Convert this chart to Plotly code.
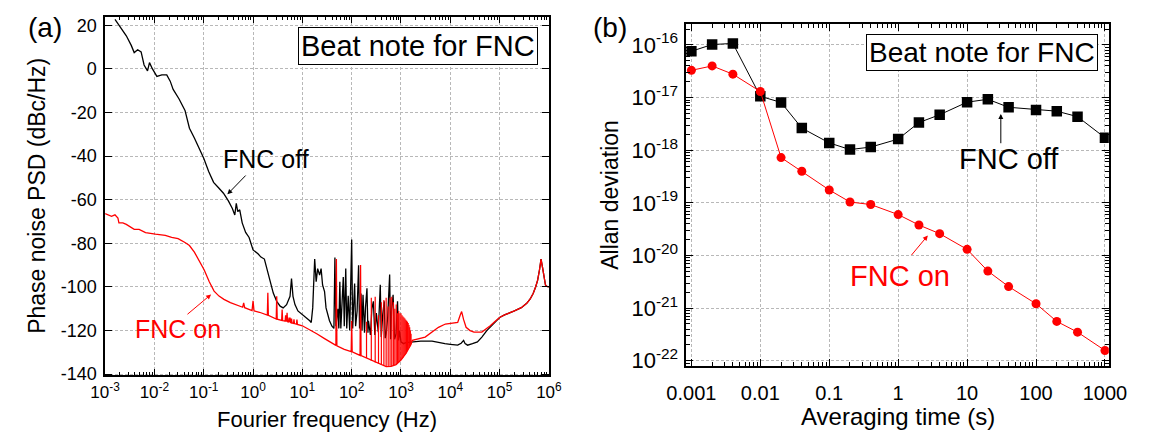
import plotly.graph_objects as go

# ---------------- panel (a): phase noise PSD ----------------
# FNC off (black) : log10(frequency / Hz) and dBc/Hz
off_logf = [-2.80, -2.57, -2.47, -2.41, -2.34, -2.27, -2.21, -2.14, -2.10, -2.04,
            -1.95, -1.85, -1.75, -1.68, -1.62, -1.50, -1.38, -1.29, -1.19, -1.09,
            -1.00, -0.90, -0.80, -0.70, -0.60, -0.50, -0.42, -0.37, -0.34, -0.31,
            -0.27, -0.22, -0.15, -0.08, -0.03, 0.00, 0.10, 0.16, 0.23, 0.28,
            0.35, 0.41, 0.48, 0.55, 0.61, 0.68, 0.75, 0.78, 0.81, 0.85,
            0.91, 1.01, 1.08, 1.15, 1.18, 1.21, 1.25, 1.28, 1.31, 1.35,
            1.38, 1.41, 1.45, 1.48, 1.55, 1.60, 1.64, 1.66, 1.68, 1.72,
            1.74, 1.76, 1.78, 1.81, 1.83, 1.85, 1.88, 1.90, 1.93, 1.96,
            2.00, 2.02, 2.06, 2.08, 2.11, 2.14, 2.16, 2.19, 2.21, 2.23,
            2.26, 2.28, 2.31, 2.33, 2.34, 2.38, 2.41, 2.44, 2.47, 2.50,
            2.54, 2.58, 2.60, 2.63, 2.66, 2.68, 2.70, 2.73, 2.77, 2.79,
            2.81, 2.84, 2.87, 2.90, 2.93, 2.95, 2.97, 3.00, 3.05, 3.10,
            3.23, 3.40, 3.63, 3.76, 3.89, 4.00, 4.15, 4.22, 4.27, 4.30,
            4.35, 4.45, 4.55, 4.64, 4.74, 4.85, 4.97]
off_db = [22.7, 15.2, 10.8, 7.5, 8.8, 7.8, 1.8, -0.9, 2.9, 0.0,
          -3.4, -2.7, -2.7, -5.6, -9.4, -13.8, -19.0, -27.2, -31.7, -36.5,
          -41.0, -47.0, -52.0, -54.5, -57.0, -60.5, -64.0, -67.0, -61.6, -65.4,
          -64.6, -70.6, -75.0, -77.3, -81.0, -83.0, -84.8, -86.3, -87.2, -91.6,
          -98.4, -102.8, -106.6, -108.8, -109.6, -108.1, -104.3, -96.1, -104.3, -108.1,
          -111.0, -112.8, -114.0, -115.5, -116.3, -109.6, -87.2, -97.6, -91.6, -94.6,
          -91.6, -99.1, -102.1, -109.6, -115.5, -118.0, -119.0, -86.5, -118.0, -110.0,
          -119.0, -97.6, -119.0, -104.0, -95.4, -118.0, -91.5, -119.0, -104.0, -120.0,
          -78.2, -119.0, -98.4, -118.0, -111.0, -90.0, -119.0, -103.0, -120.0, -103.6,
          -121.0, -109.6, -100.6, -121.0, -115.5, -122.0, -110.0, -106.6, -122.0, -112.0,
          -120.7, -99.0, -123.0, -112.5, -106.6, -123.5, -121.5, -114.0, -94.3, -124.0,
          -110.0, -103.6, -124.0, -121.5, -106.6, -124.5, -120.0, -125.2, -126.0, -125.5,
          -125.2, -124.8, -124.8, -125.5, -126.0, -126.3, -126.7, -125.8, -124.5, -126.0,
          -126.7, -126.0, -125.2, -123.0, -120.0, -117.5, -115.0]

# FNC on (red)
on_logf = [-3.00, -2.93, -2.87, -2.80, -2.74, -2.72, -2.64, -2.57, -2.47, -2.41,
           -2.31, -2.18, -1.98, -1.78, -1.65, -1.52, -1.38, -1.29, -1.19, -1.09,
           -0.99, -0.89, -0.79, -0.69, -0.59, -0.46, -0.33, -0.21, -0.19, -0.17,
           -0.02, 0.00, 0.02, 0.13, 0.29, 0.30, 0.31, 0.47, 0.48, 0.49,
           0.58, 0.59, 0.60, 0.65, 0.66, 0.67, 0.68, 0.69, 0.70, 0.72,
           0.73, 0.74, 0.75, 0.76, 0.77, 0.78, 0.79, 0.82, 0.83, 0.84,
           0.88, 0.89, 0.90, 1.00, 1.18, 1.30, 1.45, 1.60, 1.68, 1.69,
           1.70, 1.85, 1.99, 2.00, 2.01, 2.17, 2.18, 2.19, 2.30, 2.40,
           2.50, 2.60, 2.70, 2.80, 2.90, 3.00, 3.10, 3.20, 3.23, 3.49,
           3.76, 3.90, 4.02, 4.15, 4.20, 4.23, 4.27, 4.32, 4.40, 4.48,
           4.64, 4.75, 4.81, 4.90, 4.97]
on_db = [-66.4, -66.9, -67.6, -66.9, -68.4, -70.6, -70.6, -71.3, -72.8, -73.6,
         -73.6, -75.1, -75.8, -76.3, -77.3, -77.8, -79.6, -81.0, -84.0, -87.8,
         -92.2, -97.5, -101.9, -104.2, -105.7, -107.2, -108.4, -109.3, -107.3, -109.5,
         -110.8, -106.4, -111.0, -111.6, -112.9, -102.7, -113.0, -114.7, -104.3, -114.8,
         -115.3, -110.3, -115.4, -115.7, -113.0, -115.8, -115.9, -111.8, -116.0, -116.1,
         -114.0, -116.2, -114.0, -116.3, -116.4, -114.5, -116.5, -116.7, -114.8, -116.8,
         -117.1, -115.0, -117.2, -117.8, -120.0, -121.6, -123.7, -125.6, -126.8, -87.2,
         -127.0, -128.6, -129.6, -115.5, -129.8, -131.4, -89.9, -131.5, -132.6, -133.8,
         -134.8, -135.8, -136.5, -136.4, -135.6, -133.5, -130.5, -126.5, -124.5, -123.0,
         -118.5, -117.0, -116.5, -116.3, -113.0, -111.3, -115.0, -118.5, -120.0, -120.7,
         -120.7, -119.0, -117.8, -116.0, -114.5]

# high-frequency part where both curves coincide
hf_logf = [5.00, 5.10, 5.20, 5.30, 5.44, 5.55, 5.62, 5.68, 5.73, 5.77,
           5.81, 5.84, 5.87, 5.90, 5.93, 5.96, 6.00]
hf_db = [-114.0, -112.8, -112.0, -111.0, -109.5, -107.5, -105.5, -103.0, -100.0, -97.0,
         -92.0, -87.2, -91.0, -96.0, -99.1, -99.8, -100.0]

# red comb of 50 Hz harmonics (Hz, bottom dB, top dB)
comb_hz = [200, 250, 300, 350, 400, 450, 500, 550, 600, 650,
           700, 750, 800, 850, 900, 950, 1000, 1050, 1100, 1150,
           1200, 1250, 1300, 1350, 1400, 1450, 1500, 1550, 1600]
comb_base_db = [-132.6, -133.8, -134.6, -135.2, -135.8, -136.2, -136.5, -136.5, -136.4, -136.3,
                -136.1, -135.8, -135.5, -135.0, -134.5, -134.0, -133.5, -132.9, -132.3, -131.7,
                -131.1, -130.6, -130.0, -129.3, -128.6, -127.9, -127.3, -126.8, -126.3]
comb_top_db = [-116.0, -105.0, -104.5, -113.0, -107.0, -106.0, -105.0, -109.0, -105.0, -104.5,
               -107.0, -110.0, -108.0, -112.0, -111.0, -112.0, -112.0, -113.0, -113.5, -114.0,
               -114.5, -115.0, -115.5, -116.0, -116.5, -117.5, -118.5, -120.0, -121.5]

# ---------------- panel (b): Allan deviation ----------------
tau_s = [0.001, 0.002, 0.004, 0.01, 0.02, 0.04, 0.1, 0.2, 0.4, 1,
         2, 4, 10, 20, 40, 100, 200, 400, 1000]
adev_off = [7.6e-17, 1.02e-16, 1.07e-16, 1.06e-17, 8.1e-18, 2.64e-18, 1.38e-18, 1.03e-18, 1.15e-18, 1.63e-18,
            3.36e-18, 4.73e-18, 8.2e-18, 9.3e-18, 6.56e-18, 5.85e-18, 5.53e-18, 4.35e-18, 1.73e-18]
adev_on = [3.3e-17, 4.0e-17, 2.79e-17, 1.31e-17, 7.26e-19, 4.0e-19, 1.76e-19, 1.04e-19, 9.3e-20, 6.0e-20,
           3.8e-20, 2.6e-20, 1.31e-20, 5.06e-21, 2.57e-21, 1.21e-21, 5.6e-22, 3.5e-22, 1.57e-22]

psd_ticks_db = [-140, -120, -100, -80, -60, -40, -20, 0, 20]
freq_exponents = [-3, -2, -1, 0, 1, 2, 3, 4, 5, 6]
tau_ticks = [0.001, 0.01, 0.1, 1, 10, 100, 1000]
tau_ticktext = ["0.001", "0.01", "0.1", "1", "10", "100", "1000"]
adev_exponents = [-22, -21, -20, -19, -18, -17, -16]

FONT = "Arial, 'Liberation Sans', sans-serif"
RED = "#ff0000"

fig = go.Figure()

fig.add_trace(go.Scatter(
    x=[10 ** v for v in off_logf + hf_logf], y=off_db + hf_db,
    mode="lines", line=dict(color="black", width=1.3),
    xaxis="x", yaxis="y", showlegend=False, hoverinfo="skip"))

comb_x, comb_y = [], []
for f, b, t in zip(comb_hz, comb_base_db, comb_top_db):
    comb_x += [f, f, None]
    comb_y += [b, t, None]
fig.add_trace(go.Scatter(
    x=comb_x, y=comb_y, mode="lines", line=dict(color=RED, width=1.2),
    xaxis="x", yaxis="y", showlegend=False, hoverinfo="skip", connectgaps=False))

fig.add_trace(go.Scatter(
    x=[10 ** v for v in on_logf + hf_logf], y=on_db + hf_db,
    mode="lines", line=dict(color=RED, width=1.3),
    xaxis="x", yaxis="y", showlegend=False, hoverinfo="skip"))

fig.add_trace(go.Scatter(
    x=tau_s, y=adev_off, mode="lines+markers",
    line=dict(color="black", width=1),
    marker=dict(symbol="square", size=10.5, color="black"),
    xaxis="x2", yaxis="y2", showlegend=False))
fig.add_trace(go.Scatter(
    x=tau_s, y=adev_on, mode="lines+markers",
    line=dict(color=RED, width=1),
    marker=dict(symbol="circle", size=9, color=RED),
    xaxis="x2", yaxis="y2", showlegend=False))

grid = dict(showgrid=True, gridcolor="#b8b8b8", gridwidth=1, griddash="3px,2px")
frame = dict(showline=True, linecolor="black", linewidth=1.5, mirror="allticks",
             ticks="inside", ticklen=7, tickwidth=1.2, tickcolor="black", zeroline=False)

minor_freq = [m * 10.0 ** k for k in range(-3, 6) for m in range(2, 10)]
minor_tau = [m * 10.0 ** k for k in range(-3, 3) for m in range(2, 10)]
minor_adev = [m * 10.0 ** k for k in range(-23, -15) for m in range(2, 10)]

fig.update_layout(
    width=1152, height=439,
    margin=dict(l=0, r=0, t=0, b=0),
    paper_bgcolor="white", plot_bgcolor="white",
    font=dict(family=FONT, color="black"),
    xaxis=dict(type="log", range=[-3, 6], domain=[0.0764, 0.4748], anchor="y",
               tickmode="array", tickvals=[10.0 ** k for k in freq_exponents],
               ticktext=["10<sup>%d</sup>" % k for k in freq_exponents],
               tickfont=dict(size=17), ticklabelstandoff=1,
               minor=dict(tickmode="array", tickvals=minor_freq, ticks="inside",
                          ticklen=4, tickcolor="black", showgrid=False),
               **grid, **frame),
    yaxis=dict(range=[-140.5, 24], domain=[0.1276, 0.9636], anchor="x",
               tickmode="array", tickvals=psd_ticks_db,
               ticktext=["%d" % v for v in psd_ticks_db],
               tickfont=dict(size=18), ticklabelstandoff=3, **grid, **frame),
    xaxis2=dict(type="log", range=[-3.074, 3.056], domain=[0.5981, 0.9774], anchor="y2",
                tickmode="array", tickvals=tau_ticks, ticktext=tau_ticktext,
                tickfont=dict(size=20), ticklabelstandoff=9,
                minor=dict(tickmode="array", tickvals=minor_tau, ticks="inside",
                           ticklen=4, tickcolor="black", showgrid=False),
                **grid, **frame),
    yaxis2=dict(type="log", range=[-22.09, -15.61], domain=[0.1503, 0.9453], anchor="x2",
                tickmode="array", tickvals=[10.0 ** k for k in adev_exponents],
                ticktext=["10<sup>%d</sup>" % k for k in adev_exponents],
                tickfont=dict(size=22), ticklabelstandoff=2,
                minor=dict(tickmode="array", tickvals=minor_adev, ticks="inside",
                           ticklen=4, tickcolor="black", showgrid=False),
                **grid, **frame),
)

ann = []
# panel labels
ann.append(dict(text="(a)", x=0.0226, y=0.9385, xref="paper", yref="paper",
                showarrow=False, font=dict(size=28), xanchor="center", yanchor="middle"))
ann.append(dict(text="(b)", x=0.530, y=0.9385, xref="paper", yref="paper",
                showarrow=False, font=dict(size=28), xanchor="center", yanchor="middle"))
# axis titles
ann.append(dict(text="Phase noise PSD (dBc/Hz)", x=0.0152, y=0.5456, xref="paper", yref="paper",
                textangle=-90, showarrow=False, font=dict(size=23), xanchor="center", yanchor="middle"))
ann.append(dict(text="Fourier frequency (Hz)", x=0.2756, y=0.0, xref="paper", yref="paper",
                showarrow=False, font=dict(size=22), xanchor="center", yanchor="bottom",
                yshift=-4))
ann.append(dict(text="Allan deviation", x=0.5295, y=0.548, xref="paper", yref="paper",
                textangle=-90, showarrow=False, font=dict(size=23), xanchor="center", yanchor="middle"))
ann.append(dict(text="Averaging time (s)", x=0.7878, y=0.031, xref="paper", yref="paper",
                showarrow=False, font=dict(size=24), xanchor="center", yanchor="middle"))
# boxes
ann.append(dict(text="Beat note for FNC", x=0.976, y=0.971, xref="x domain", yref="y domain",
                xanchor="right", yanchor="top", showarrow=False, font=dict(size=29),
                bordercolor="black", borderwidth=1, borderpad=2, bgcolor="white"))
ann.append(dict(text="Beat note for FNC", x=0.975, y=0.973, xref="x2 domain", yref="y2 domain",
                xanchor="right", yanchor="top", showarrow=False, font=dict(size=28),
                bordercolor="black", borderwidth=1, borderpad=2, bgcolor="white"))
# panel (a) labels and arrows (log10 units on log axes)
ann.append(dict(text="FNC off", x=0.26, y=-41.5, xref="x", yref="y", showarrow=False,
                font=dict(size=25, color="black")))
ann.append(dict(text="", x=-0.52, y=-57.5, ax=-0.12, ay=-48.2, xref="x", yref="y",
                axref="x", ayref="y", showarrow=True, arrowhead=2, arrowsize=1,
                arrowwidth=1, arrowcolor="black"))
ann.append(dict(text="FNC on", x=-1.53, y=-119.4, xref="x", yref="y", showarrow=False,
                font=dict(size=25, color=RED)))
ann.append(dict(text="", x=-0.85, y=-103.4, ax=-1.36, ay=-113.1, xref="x", yref="y",
                axref="x", ayref="y", showarrow=True, arrowhead=2, arrowsize=1,
                arrowwidth=1, arrowcolor=RED))
# panel (b) labels and arrows
ann.append(dict(text="FNC off", x=1.606, y=-18.17, xref="x2", yref="y2", showarrow=False,
                font=dict(size=29, color="black")))
ann.append(dict(text="", x=1.489, y=-17.31, ax=1.489, ay=-17.895, xref="x2", yref="y2",
                axref="x2", ayref="y2", showarrow=True, arrowhead=2, arrowsize=1,
                arrowwidth=1, arrowcolor="black"))
ann.append(dict(text="FNC on", x=0.02, y=-20.38, xref="x2", yref="y2", showarrow=False,
                font=dict(size=29, color=RED)))
ann.append(dict(text="", x=0.43, y=-19.62, ax=0.175, ay=-20.02, xref="x2", yref="y2",
                axref="x2", ayref="y2", showarrow=True, arrowhead=2, arrowsize=1,
                arrowwidth=1, arrowcolor=RED))
fig.update_layout(annotations=ann)

fig.write_html("out.html")
